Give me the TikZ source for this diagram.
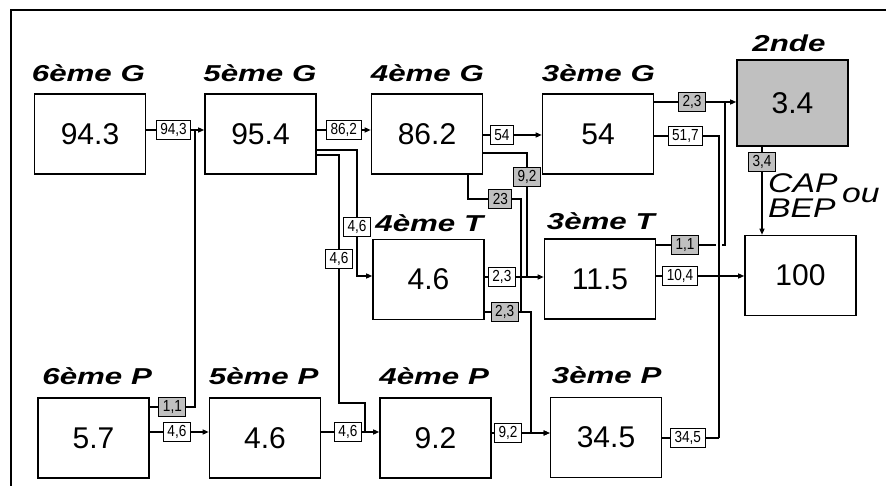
\documentclass[tikz,border=0pt]{standalone}
\usepackage{fontspec}
\usetikzlibrary{arrows.meta}
\newfontfamily\numfont{Liberation Sans}
\newfontfamily\lblfont[FakeStretch=0.85]{Liberation Sans}
\newfontfamily\ttlfont[FakeStretch=1.36]{Liberation Sans}
\newfontfamily\capfont[FakeStretch=1.25]{Liberation Sans}
\definecolor{shade}{RGB}{192,192,192}
\tikzset{box/.style={draw=black,line width=1.6pt,minimum width=111pt,minimum height=80pt,inner sep=0pt,
   font=\numfont\fontsize{30}{36}\selectfont},
 boxg/.style={box,fill=shade,minimum height=86pt},
 ttl/.style={anchor=base west,inner sep=0pt,font=\ttlfont\fontsize{23}{26}\selectfont\bfseries\itshape},
 captxt/.style={anchor=base west,inner sep=0pt,font=\capfont\fontsize{27}{30}\selectfont\itshape},
 lbl/.style={draw=black,fill=white,line width=.9pt,minimum height=19pt,inner xsep=4pt,inner ysep=0pt,
   font=\lblfont\fontsize{16}{18}\selectfont},
 lblg/.style={lbl,fill=shade},
 wire/.style={draw=black,line width=1.2pt},
 arr/.style={wire,-{Triangle[length=6pt,width=5pt]}}}

\begin{document}
\begin{tikzpicture}[x=1pt,y=-1pt]
\useasboundingbox (0,0) rectangle (886,486);
\draw[line width=2pt] (11,486) -- (11,10) -- (886,10);
\node[box] (g6) at (90,134) {94.3};
\node[box] (g5) at (260.5,134) {95.4};
\node[box] (g4) at (427,134) {86.2};
\node[box] (g3) at (598,134) {54};
\node[boxg] (sec) at (792.5,103) {3.4};
\node[box] (t4) at (428.5,279.5) {4.6};
\node[box] (t3) at (600,279) {11.5};
\node[box] (fin) at (800.5,275.5) {100};
\node[box] (p6) at (93.5,438) {5.7};
\node[box] (p5) at (265,438) {4.6};
\node[box] (p4) at (435.5,438) {9.2};
\node[box] (p3) at (606,437.5) {34.5};
\node[ttl] (g6t) at ([xshift=-2pt,yshift=12pt]g6.north west) {6ème G};
\node[ttl] (g5t) at ([xshift=-1pt,yshift=12pt]g5.north west) {5ème G};
\node[ttl] (g4t) at ([yshift=12pt]g4.north west) {4ème G};
\node[ttl] (g3t) at ([yshift=12pt]g3.north west) {3ème G};
\node[ttl] (sect) at ([xshift=16pt,yshift=8pt]sec.north west) {2nde};
\node[ttl] (t4t) at ([xshift=3pt,yshift=7pt]t4.north west) {4ème T};
\node[ttl] (t3t) at ([xshift=3pt,yshift=9pt]t3.north west) {3ème T};
\node[ttl] (p6t) at ([xshift=5pt,yshift=13pt]p6.north west) {6ème P};
\node[ttl] (p5t) at ([yshift=13pt]p5.north west) {5ème P};
\node[ttl] (p4t) at ([yshift=13pt]p4.north west) {4ème P};
\node[ttl] (p3t) at ([xshift=2pt,yshift=13pt]p3.north west) {3ème P};
\node[captxt] (cap) at (768,193) {CAP};
\node[captxt] (ou) at (842,203) {ou};
\node[captxt] (bep) at (768,218) {BEP};
\coordinate (j6) at (195,130);
\coordinate (k6) at (195,407);
\coordinate (r432) at (0,432);
\coordinate (e1) at (357,150);
\coordinate (e2) at (357,276);
\coordinate (f1) at (339,155);
\coordinate (f2) at (339,403);
\coordinate (f3) at (365,403);
\coordinate (h1) at (0,135);
\coordinate (i1) at (527,153);
\coordinate (i2) at (527,277);
\coordinate (m1) at (468,199);
\coordinate (m2) at (521,199);
\coordinate (m3) at (521,312);
\coordinate (l1) at (531,312);
\coordinate (l2) at (531,433);
\coordinate (n1) at (725,102);
\coordinate (o1) at (719,136);
\coordinate (o2) at (719,438);
\coordinate (q1) at (0,276);
\coordinate (r1) at (716,245);
\coordinate (r2) at (722,245);
\coordinate (s1) at (762,0);
\draw[arr] (g6.east |- j6) -- node[lbl,pos=.47] {94,3} (g5.west |- j6);
\draw[wire] (p6.east |- k6) -- node[lblg] {1,1} (k6) -- (j6);
\draw[arr] (p6.east |- r432) -- node[lbl,pos=.46] {4,6} (p5.west |- r432);
\draw[arr] (g5.east |- j6) -- node[lbl] {86,2} (g4.west |- j6);
\draw[arr] (g5.east |- e1) -- (e1) -- node[lbl,pos=.61] {4,6} (e2) -- (t4.west |- e2);
\draw[wire] (g5.east |- f1) -- (f1) -- node[lbl,pos=.42] {4,6} (f2) -- (f3) -- (f3 |- r432);
\draw[arr] (p5.east |- r432) -- node[lbl,pos=.46] {4,6} (p4.west |- r432);
\draw[arr] (g4.east |- h1) -- node[lbl,pos=.32] {54} (g3.west |- h1);
\draw[wire] (g4.east |- i1) -- (i1) -- node[lblg,pos=.19] {9,2} (i2);
\draw[wire] (g4.south -| m1) -- (m1) -- node[lblg,pos=.61] {23} (m2) -- (m3);
\draw[arr] (t4.east |- i2) -- node[lbl,pos=.29] {2,3} (t3.west |- i2);
\draw[arr] (t4.east |- l1) -- node[lblg,pos=.43] {2,3} (l1) -- (l2) -- (p3.west |- l2);
\draw[arr] (p4.east |- l2) -- node[lbl,pos=.28] {9,2} (p3.west |- l2);
\draw[arr] (g3.east |- n1) -- node[lblg,pos=.46] {2,3} (sec.west |- n1);
\draw[wire] (g3.east |- o1) -- node[lbl,pos=.48] {51,7} (o1) -- (o2);
\draw[wire] (p3.east |- o2) -- node[lbl,pos=.45] {34,5} (o2);
\draw[arr] (t3.east |- q1) -- node[lbl,pos=.27] {10,4} (fin.west |- q1);
\draw[wire] (t3.east |- r1) -- node[lblg,pos=.48] {1,1} (r1);
\draw[wire] (r2) -| (n1);
\draw[arr] (sec.south -| s1) -- node[lblg,pos=.17] {3,4} (fin.north -| s1);
\end{tikzpicture}
\end{document}
